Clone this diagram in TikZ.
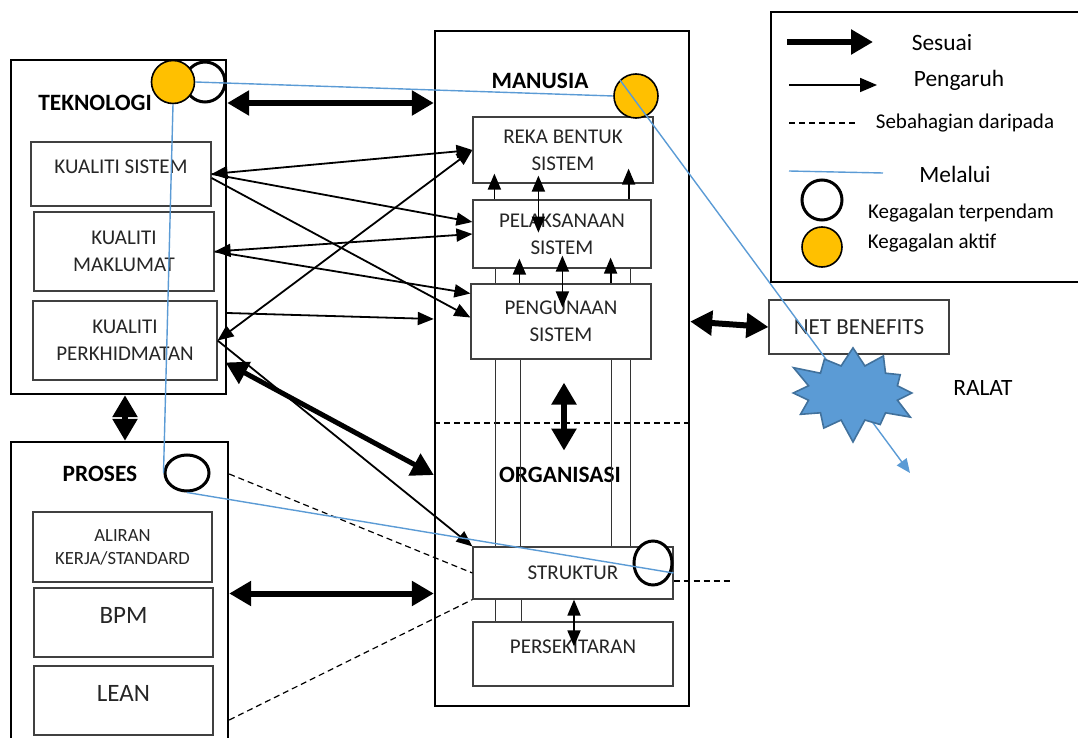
\documentclass[tikz,border=0pt]{standalone}
\usepackage{fontspec}
\setmainfont{Carlito}
\usetikzlibrary{positioning, arrows.meta, calc, shapes.geometric, shapes.symbols}

\definecolor{melalui}{RGB}{91,155,213}
\definecolor{kuning}{RGB}{255,192,0}
\definecolor{birutua}{RGB}{65,113,156}

\begin{document}
\begin{tikzpicture}[
    x=0.5pt, y=-0.5pt,
    % Outer block (TEKNOLOGI, MANUSIA, PROSES)
    blok/.style={draw, line width=1.2pt, inner sep=0pt},
    % Inner item box
    kotak/.style={draw=black!75, fill=white, line width=0.6pt, inner sep=0pt, align=center,
        text=black!85, font=\fontsize{10.5}{13.5}\selectfont},
    % Text sits higher in the box
    tinggi/.style={text depth=7pt},
    % Block heading
    judul/.style={font=\fontsize{11.7}{14}\selectfont\bfseries},
    % Failure circles
    terpendam/.style={ellipse, draw, line width=1.5pt, fill=white, inner sep=0pt},
    aktif/.style={ellipse, draw, line width=0.8pt, fill=kuning, inner sep=0pt},
    % Arrow styles
    tebal/.style={line width=3pt, >={Triangle[length=11pt,width=12pt]}},
    nipis/.style={line width=0.9pt, >={Triangle[length=8pt,width=6.5pt]}},
    garis/.style={line width=0.5pt, draw=black!80},
    putus/.style={line width=0.6pt, dash pattern=on 3pt off 2pt},
    lalu/.style={draw=melalui, line width=0.7pt},
    teks/.style={font=\fontsize{11.7}{14}\selectfont},
    tekskecil/.style={font=\fontsize{10.5}{13}\selectfont},
]
\useasboundingbox (0,0) rectangle (1078,738);

% ============================================================
% TEKNOLOGI
% ============================================================
\node[blok, minimum width=107.5pt, minimum height=167pt] (teknologi) at (118.5,227) {};
\node[judul] (hTek) at (95,103) {TEKNOLOGI};
\node[kotak, tinggi, minimum width=90pt, minimum height=32pt] (ks) at (121,174) {KUALITI SISTEM};
\node[kotak, minimum width=90pt, minimum height=39.5pt] (km) at (124,251.5) {KUALITI\\MAKLUMAT};
\node[kotak, minimum width=92pt, minimum height=39.5pt] (kp) at (125,340.5) {KUALITI\\PERKHIDMATAN};

% ============================================================
% MANUSIA / ORGANISASI
% ============================================================
\node[blok, minimum width=127pt, minimum height=337.5pt] (manusia) at (562,368.5) {};
\node[judul] (hMan) at (540,81) {MANUSIA};
\node[kotak, minimum width=90pt, minimum height=33pt] (reka) at (563,150) {REKA BENTUK\\SISTEM};
\node[kotak, minimum width=89pt, minimum height=34pt] (laksana) at (562,234) {PELAKSANAAN\\SISTEM};
\node[kotak, minimum width=90pt, minimum height=37.5pt] (guna) at (561,321.5) {PENGUNAAN\\SISTEM};
\node[judul] (hOrg) at (560,475) {ORGANISASI};
\node[kotak, minimum width=100pt, minimum height=26pt] (struktur) at (573,573) {STRUKTUR};
\node[kotak, tinggi, minimum width=100pt, minimum height=32pt] (sekitar) at (573,654) {PERSEKITARAN};

% divider between MANUSIA and ORGANISASI
\coordinate (garisOrg) at (0,423);
\draw[putus] (manusia.west |- garisOrg) -- (manusia.east |- garisOrg);

% ============================================================
% PROSES
% ============================================================
\node[blok, minimum width=108.5pt, minimum height=151.5pt] (proses) at (119.5,593.5) {};
\node[judul] (hPro) at (100,474) {PROSES};
\node[kotak, minimum width=89.5pt, minimum height=35pt, font=\fontsize{9.3}{11.5}\selectfont] (aliran) at (122.5,547) {ALIRAN\\KERJA/STANDARD};
\node[kotak, tinggi, minimum width=89.5pt, minimum height=34.5pt, font=\fontsize{12.5}{15}\selectfont] (bpm) at (123.5,622.5) {BPM};
\node[kotak, tinggi, minimum width=89.5pt, minimum height=34.5pt, font=\fontsize{12.5}{15}\selectfont] (lean) at (123.5,700.5) {LEAN};

% ============================================================
% NET BENEFITS
% ============================================================
\node[kotak, minimum width=90pt, minimum height=27pt, font=\fontsize{11.5}{14}\selectfont] (net) at (859,327) {NET BENEFITS};

% --- thin lines inside MANUSIA / ORGANISASI ---
\draw[garis] ($(laksana.south west)+(23,0)$) -- ($(guna.north west)+(25,0)$);
\draw[garis] ($(laksana.south east)+(-21,0)$) -- ($(guna.north east)+(-21,0)$);
\draw[garis] ($(guna.south west)+(25,0)$) -- ($(struktur.north west)+(23,0)$);
\draw[garis] ($(guna.south west)+(50,0)$) -- ($(struktur.north west)+(48,0)$);
\draw[garis] ($(guna.south east)+(-40,0)$) -- ($(struktur.north east)+(-62,0)$);
\draw[garis] ($(guna.south east)+(-21,0)$) -- ($(struktur.north east)+(-43,0)$);
\draw[garis] ($(struktur.south west)+(23,0)$) -- ($(sekitar.north west)+(23,0)$);
\draw[garis] ($(struktur.south west)+(49,0)$) -- ($(sekitar.north west)+(49,0)$);

% --- arrows inside MANUSIA ---
\draw[nipis, ->] ($(laksana.north west)+(22,0)$) -- ($(reka.south west)+(22,-10)$);
\draw[nipis, <->] ($(reka.south west)+(66,-8)$) -- ($(laksana.south west)+(66,-36)$);
\draw[nipis, ->] ($(laksana.north east)+(-23,0)$) -- ($(reka.south east)+(-25,-15)$);
\draw[nipis, ->] ($(guna.north west)+(49,0)$) -- ($(laksana.south west)+(47,-10)$);
\draw[nipis, <->] ($(laksana.south west)+(90,-13)$) -- ($(guna.north west)+(92,24)$);
\draw[nipis, ->] ($(guna.north east)+(-41,0)$) -- ($(laksana.south east)+(-41,-11)$);
\draw[nipis, <->] ($(struktur.south)+(1,0)$) -- ($(sekitar.north)+(1,25)$);

% --- Sesuai (thick) ---
\draw[tebal, <->] (teknologi.east |- hTek) -- (manusia.west |- hTek);
\draw[tebal, <->] (teknologi.south -| kp) -- (proses.north -| kp);
\draw[tebal, <->, line width=2.5pt] ($(kp.east)+(8,22)$) -- (manusia.west |- hOrg);
\draw[tebal, <->] (proses.east) -- (manusia.west |- proses.east);
\draw[tebal, <->] (manusia.east |- guna) -- (net.west);
\draw[tebal, <->] ($(guna.south)+(3,23)$) -- ($(guna.south)+(3,91)$);

% --- Pengaruh (thin) ---
\draw[nipis, <->] (ks.east) -- (reka.west);
\draw[nipis, ->] (ks.east) -- ([yshift=6pt]laksana.west);
\draw[nipis, ->] ([yshift=-2pt]ks.east) -- ([yshift=2pt]guna.west);
\draw[nipis, <->] (km.east) -- (laksana.west);
\draw[nipis, ->] (km.east) -- ([yshift=14pt]guna.west);
\draw[nipis, ->] ($(teknologi.east)+(0,86)$) -- ($(manusia.west)+(0,-49.5)$);
\draw[nipis, <->] (kp.east) -- (reka.west);
\draw[nipis, ->] (kp.east) -- (struktur.north west);

% --- Sebahagian daripada (dashed) ---
\draw[putus] (proses.east |- hPro) -- (struktur.west);
\draw[putus] ($(proses.east)+(0,126.5)$) -- (struktur.south west);
\draw[putus] ([yshift=-4pt]struktur.east) -- ++(59,0);

% --- failure circles ---
\node[terpendam, minimum width=20pt, minimum height=20pt] (lTek) at (205,82) {};
\node[aktif, minimum width=21.5pt, minimum height=21.5pt] (aTek) at (173,82) {};
\node[aktif, minimum width=22pt, minimum height=22pt] (aMan) at (636,96) {};
\node[terpendam, minimum width=22pt, minimum height=18pt] (lPro) at (187,473) {};
\node[terpendam, minimum width=19pt, minimum height=22pt] (lStr) at (653,563) {};

% --- Melalui (blue) ---
\coordinate (ujung) at (910,473);
\draw[lalu] (aTek.east) -- (aMan.west);
\draw[lalu] (aTek.south) -- (lPro.west);
\draw[lalu] (lPro.south) -- ($(lStr.east)+(0,10)$);
\draw[lalu, -{Triangle[length=7pt,width=6pt]}] (aMan.north west) -- (ujung);

% --- RALAT ---
\node[starburst, starburst points=12, starburst point height=12pt,
      minimum width=70pt, minimum height=52pt,
      fill=melalui, draw=birutua, line width=0.8pt] (ralat) at (853,393) {};
\node[teks] (tRalat) at (983,388) {RALAT};

% ============================================================
% Legend
% ============================================================
\node[blok, minimum width=155.5pt, minimum height=135pt] (legenda) at (926.5,147) {};
\coordinate (s1) at (787,42);  \coordinate (s2) at (873,42);
\coordinate (p1) at (789,85);  \coordinate (p2) at (877,85);
\coordinate (d1) at (789,123); \coordinate (d2) at (855,123);
\coordinate (m1) at (789,171); \coordinate (m2) at (883,173);
\draw[tebal, ->] (s1) -- (s2);
\draw[nipis, ->, >={Triangle[length=8.5pt,width=7pt]}] (p1) -- (p2);
\draw[putus] (d1) -- (d2);
\draw[lalu] (m1) -- (m2);
\node[terpendam, minimum width=20pt, minimum height=20pt] (kTer) at (822,200) {};
\node[aktif, minimum width=20pt, minimum height=20pt] (kAkt) at (822,247) {};
\node[teks] (tSesuai) at (942,43) {Sesuai};
\node[teks] (tPengaruh) at (959,80) {Pengaruh};
\node[tekskecil] (tSebahagian) at (965,123) {Sebahagian daripada};
\node[teks] (tMelalui) at (955,174) {Melalui};
\node[tekskecil] (tTerpendam) at (961,213) {Kegagalan terpendam};
\node[tekskecil] (tAktif) at (932,243) {Kegagalan aktif};

\end{tikzpicture}
\end{document}
